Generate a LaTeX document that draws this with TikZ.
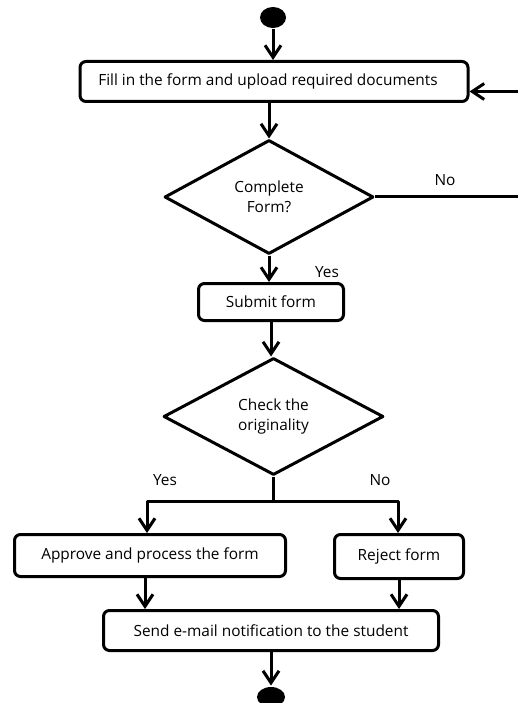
\documentclass[tikz,border=0pt]{standalone}
\usepackage{fontspec}
\setmainfont{Open Sans}
\usetikzlibrary{shapes.geometric,arrows.meta}
\begin{document}
\begin{tikzpicture}[x=1pt,y=-1pt,line width=3pt,line join=round,
  txt/.style={font=\fontsize{15.4}{19.5}\selectfont},
  act/.style={txt,draw,rectangle,rounded corners=6pt,inner sep=0pt,align=center},
  dec/.style={txt,draw,diamond,inner sep=0pt,align=center},
  term/.style={draw=none,fill=black,ellipse,inner sep=0pt},
  arr/.style={-{Straight Barb[length=12pt,width=16pt]}},
  lbl/.style={txt,inner sep=0pt}]
\useasboundingbox (0,0) rectangle (517,703);

% activity nodes
\node[term,minimum width=26pt,minimum height=21pt] (start) at (273,17.5) {};
\node[act,minimum width=388pt,minimum height=40pt] (fill) at (274,81.5)
  {Fill in the form and upload required documents\hspace*{12pt}};
\node[dec,minimum width=209pt,minimum height=114pt] (complete) at (269,197)
  {Complete\\Form?};
\node[act,minimum width=145pt,minimum height=37pt] (submit) at (271,302)
  {Submit form};
\node[dec,minimum width=220pt,minimum height=117pt] (check) at (273.5,416.5)
  {Check the\\originality};
\node[act,minimum width=271pt,minimum height=42pt] (approve) at (150,555.5)
  {\raisebox{3pt}{Approve and process the form}};
\node[act,minimum width=129pt,minimum height=44pt] (reject) at (399,556.5)
  {\raisebox{3pt}{Reject form}};
\node[act,minimum width=335pt,minimum height=40pt] (send) at (271,630.5)
  {Send e-mail notification to the student};
\node[term,minimum width=28pt,minimum height=20pt] (end) at (271,697) {};

% branch points
\coordinate (yesbr) at (147,501);
\coordinate (nobr) at (398,501);
\coordinate (loopin) at ([yshift=-10pt]fill.east);

% connectors
\draw[arr] (start.south) -- (start.south |- fill.north);
\draw[arr] (fill.south -| complete.north) -- (complete.north);
\draw[arr] (complete.south) -- (complete.south |- submit.north);
\draw[arr] (submit.south) -- (submit.south |- check.north);
\draw[arr] (complete.east) -- (530,197) |- (loopin);
\draw[arr] (check.south) |- (yesbr) -- (yesbr |- approve.north);
\draw[arr] (check.south) |- (nobr) -- (nobr |- reject.north);
\draw[arr] ([xshift=-5pt]approve.south) -- ([xshift=-5pt]approve.south |- send.north);
\draw[arr] (reject.south) -- (reject.south |- send.north);
\draw[arr] (send.south) -- (send.south |- end.north);

% branch labels
\node[lbl] (no1) at (445,180) {No};
\node[lbl] (yes1) at (327,272) {Yes};
\node[lbl] (yes2) at (165,480) {Yes};
\node[lbl] (no2) at (380,480) {No};
\end{tikzpicture}
\end{document}
